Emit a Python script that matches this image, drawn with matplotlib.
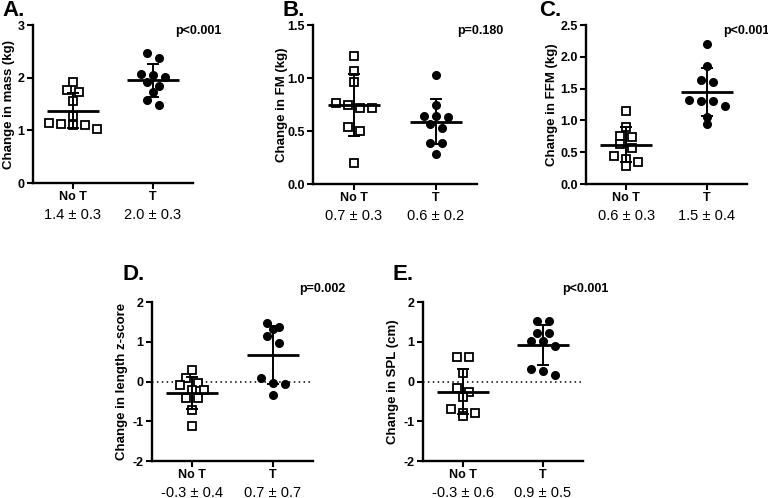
import numpy as np
import matplotlib
matplotlib.use("Agg")
import matplotlib.pyplot as plt

plt.rcParams['font.family'] = ['Liberation Sans', 'DejaVu Sans']

groups = ["No T", "T"]

# values (each point = one subject)
mass_not = [1.91, 1.76, 1.72, 1.55, 1.28, 1.14, 1.12, 1.11, 1.10, 1.03]
mass_t = [2.47, 2.37, 2.07, 2.05, 2.02, 1.92, 1.84, 1.72, 1.58, 1.48]
fm_not = [1.21, 1.07, 0.96, 0.76, 0.75, 0.72, 0.72, 0.54, 0.50, 0.20]
fm_t = [1.03, 0.75, 0.64, 0.64, 0.63, 0.57, 0.53, 0.39, 0.39, 0.28]
ffm_not = [1.15, 0.89, 0.76, 0.74, 0.63, 0.56, 0.44, 0.39, 0.35, 0.29]
ffm_t = [2.20, 1.85, 1.64, 1.60, 1.32, 1.31, 1.31, 1.23, 1.06, 0.94]
z_not = [0.29, 0.08, -0.05, -0.09, -0.21, -0.21, -0.42, -0.42, -0.72, -1.12]
z_t = [1.48, 1.38, 1.31, 1.14, 0.98, 0.08, -0.03, -0.07, -0.34]
spl_not = [0.61, 0.61, 0.22, -0.17, -0.26, -0.38, -0.70, -0.80, -0.80, -0.88]
spl_t = [1.52, 1.52, 1.22, 1.22, 1.02, 1.02, 0.90, 0.31, 0.26, 0.16]

ylabels = ["Change in mass (kg)", "Change in FM (kg)", "Change in FFM (kg)",
           "Change in length z-score", "Change in SPL (cm)"]
panel_letters = ["A.", "B.", "C.", "D.", "E."]
p_values = ["p<0.001", "p=0.180", "p<0.001", "p=0.002", "p<0.001"]
summaries = [["1.4 \u00b1 0.3", "2.0 \u00b1 0.3"],
             ["0.7 \u00b1 0.3", "0.6 \u00b1 0.2"],
             ["0.6 \u00b1 0.3", "1.5 \u00b1 0.4"],
             ["-0.3 \u00b1 0.4", "0.7 \u00b1 0.7"],
             ["-0.3 \u00b1 0.6", "0.9 \u00b1 0.5"]]
yticks = [[0, 1, 2, 3],
          [0, 0.5, 1.0, 1.5],
          [0, 0.5, 1.0, 1.5, 2.0, 2.5],
          [-2, -1, 0, 1, 2],
          [-2, -1, 0, 1, 2]]
ytick_labels = [["0", "1", "2", "3"],
                ["0.0", "0.5", "1.0", "1.5"],
                ["0.0", "0.5", "1.0", "1.5", "2.0", "2.5"],
                ["-2", "-1", "0", "1", "2"],
                ["-2", "-1", "0", "1", "2"]]
data = [(mass_not, mass_t), (fm_not, fm_t), (ffm_not, ffm_t),
        (z_not, z_t), (spl_not, spl_t)]

W, H = 768, 498
# axes boxes in pixels: left, top, width, height
boxes = [(33, 25, 160, 158), (313, 25, 164, 159), (586, 25, 161, 159),
         (152, 302, 161, 159), (423, 302, 160, 159)]
# distance (px) from the y axis to the centre of the y label
ylab_dist = [24, 31, 34, 30, 30]
letter_pos = [(2, 10), (282, 10), (539, 10), (122, 275), (392, 275)]
p_pos = [(175, 31), (457, 31), (723, 31), (299, 289), (562, 289)]


def swarm(vals, h_px, span, step=0.15, size_px=6.5):
    # group close values in rows, spread each row symmetrically
    thr = size_px * span / h_px
    vals = np.asarray(vals)
    order = np.argsort(-vals, kind="stable")
    rows = []
    for i in order:
        if rows and vals[rows[-1][0]] - vals[i] < thr:
            rows[-1].append(i)
        else:
            rows.append([i])
    offs = np.zeros(len(vals))
    for row in rows:
        n = len(row)
        for k, i in enumerate(row):
            offs[i] = (k - (n - 1) / 2) * step
    return offs


fig = plt.figure(figsize=(W / 100, H / 100), dpi=100)

for p in range(5):
    l, t, w, h = boxes[p]
    ax = fig.add_axes([l / W, (H - t - h) / H, w / W, h / H])
    ylim = (yticks[p][0], yticks[p][-1])
    ax.set_ylim(ylim)
    ax.set_xlim(-0.5, 1.5)

    if ylim[0] < 0:
        ax.axhline(0, color="black", lw=1.1, ls=(0, (1, 2.2)), zorder=1)

    for g in range(2):
        vals = np.array(data[p][g])
        offs = swarm(vals, h, ylim[1] - ylim[0])
        if g == 0:
            ax.plot(g + offs, vals, "s", ms=5.5, mfc="white", mec="black",
                    mew=1.3, ls="none", zorder=2)
        else:
            ax.plot(g + offs, vals, "o", ms=5.5, color="black", ls="none",
                    zorder=2)
        m = vals.mean()
        sd = vals.std(ddof=1)
        ax.hlines(m, g - 0.32, g + 0.32, color="black", lw=2, zorder=3)
        ax.errorbar(g, m, yerr=sd, fmt="none", ecolor="black",
                    elinewidth=1.4, capsize=4.5, capthick=1.4, zorder=3)
        ax.text(g, -0.2, summaries[p][g], transform=ax.get_xaxis_transform(),
                ha="center", va="center", fontsize=10.5)

    for side in ["top", "right"]:
        ax.spines[side].set_visible(False)
    for side in ["left", "bottom"]:
        ax.spines[side].set_linewidth(1.7)

    ax.set_yticks(yticks[p])
    ax.set_yticklabels(ytick_labels[p], fontsize=9, fontweight="bold")
    ax.set_xticks([0, 1])
    ax.set_xticklabels(groups, fontsize=9, fontweight="bold")
    ax.tick_params(width=1.5, length=4, pad=2)
    ax.set_ylabel(ylabels[p], fontsize=9.5, fontweight="bold")
    ax.yaxis.set_label_coords(-(ylab_dist[p] - 6) / w, 0.5)

    fig.text(letter_pos[p][0] / W, 1 - letter_pos[p][1] / H, panel_letters[p],
             fontsize=16, fontweight="bold", ha="left", va="center")
    fig.text(p_pos[p][0] / W, 1 - p_pos[p][1] / H, p_values[p],
             fontsize=9, fontweight="bold", ha="left", va="center")

fig.savefig("out.png", dpi=100)
